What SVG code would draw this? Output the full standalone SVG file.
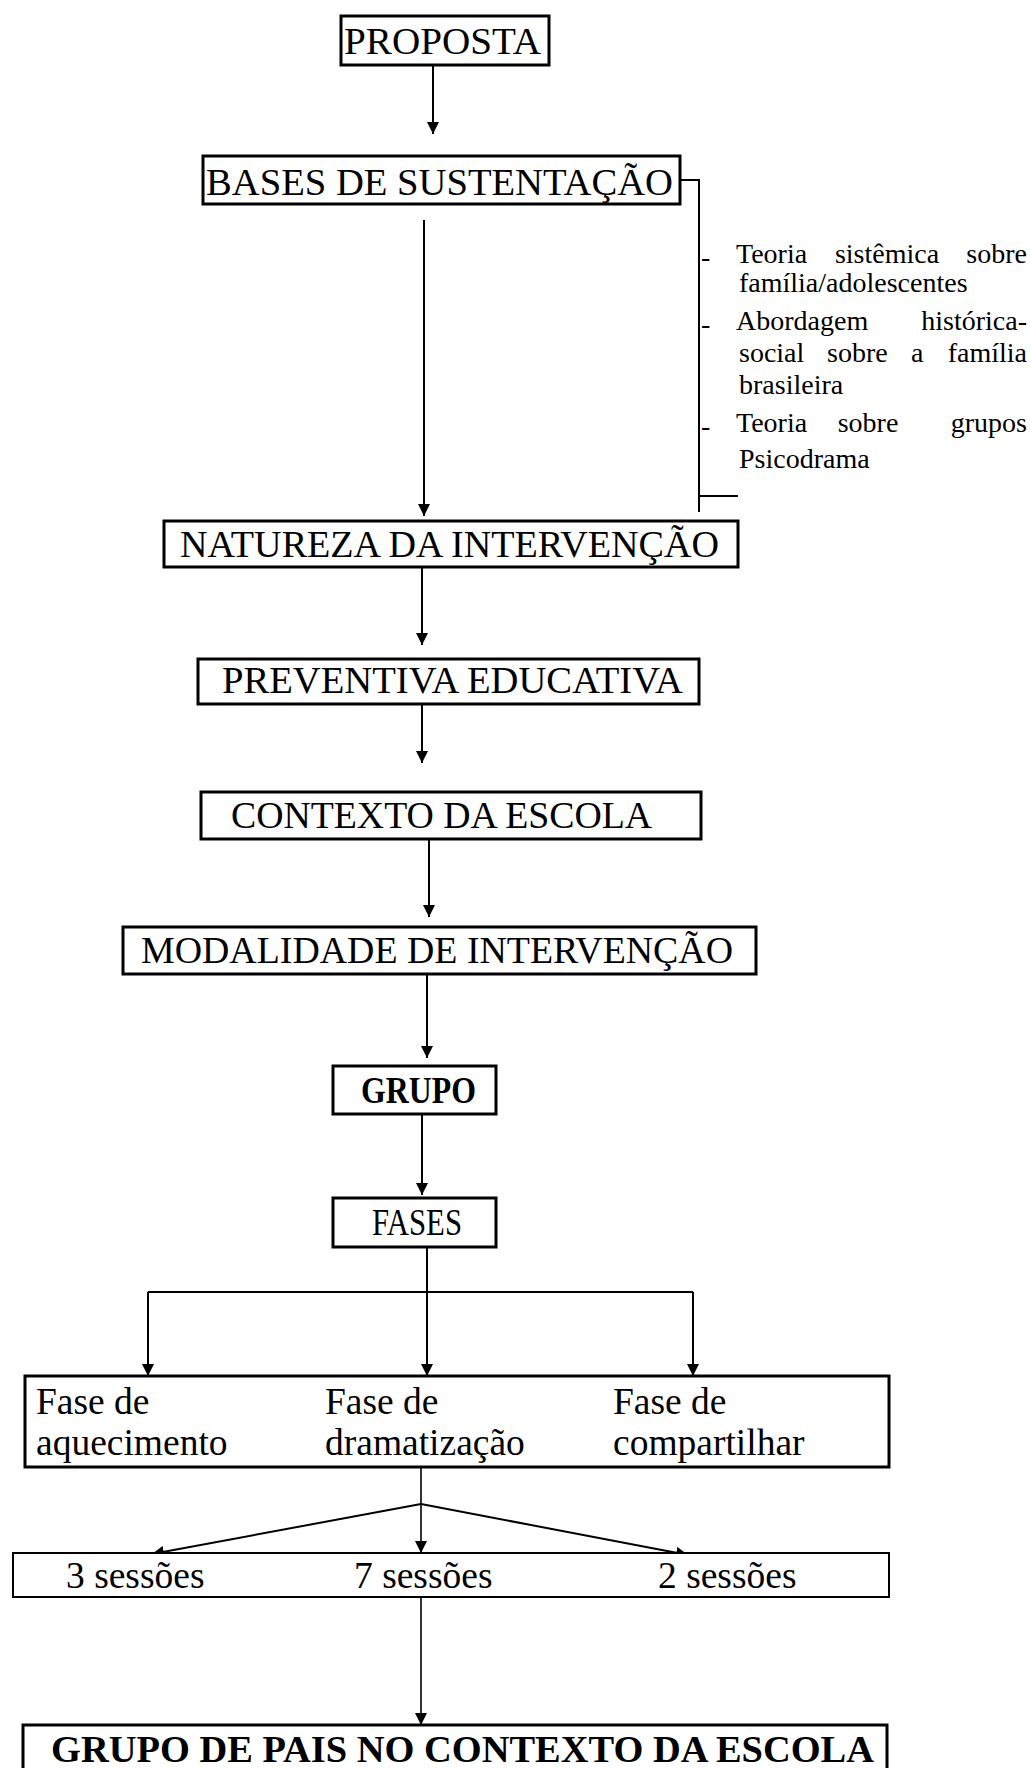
<svg xmlns="http://www.w3.org/2000/svg" width="1030" height="1768" viewBox="0 0 1030 1768">
<defs>
<style>
.box{fill:#fff;stroke:#000;stroke-width:3}
.thin{fill:#fff;stroke:#000;stroke-width:2}
.t{font-family:"Liberation Serif","Times New Roman",serif;font-size:38px;fill:#000}
.p{font-family:"Liberation Serif","Times New Roman",serif;font-size:37.5px;fill:#000}
.b{font-family:"Liberation Serif","Times New Roman",serif;font-size:38px;font-weight:bold;fill:#000}
.s{font-family:"Liberation Serif","Times New Roman",serif;font-size:28px;fill:#000}
.c{stroke:#000;stroke-width:2;fill:none}
.c2{stroke:#000;stroke-width:1.6;fill:none}
</style>
<marker id="ah" viewBox="0 0 12 12" refX="12" refY="6" markerWidth="12" markerHeight="12" markerUnits="userSpaceOnUse" orient="auto">
<path d="M0,0 L12,6 L0,12 z" fill="#000"/>
</marker>
</defs>
<rect width="1030" height="1768" fill="#fff"/>

<g id="connectors">
<line class="c" x1="433" y1="65" x2="433" y2="134" marker-end="url(#ah)"/>
<line class="c" x1="424" y1="220" x2="424" y2="516" marker-end="url(#ah)"/>
<line class="c" x1="422" y1="567" x2="422" y2="645" marker-end="url(#ah)"/>
<line class="c" x1="422" y1="704" x2="422" y2="763" marker-end="url(#ah)"/>
<line class="c" x1="429" y1="839" x2="429" y2="917" marker-end="url(#ah)"/>
<line class="c" x1="427" y1="974" x2="427" y2="1058" marker-end="url(#ah)"/>
<line class="c" x1="422" y1="1114" x2="422" y2="1195" marker-end="url(#ah)"/>
<line class="c" x1="427" y1="1247" x2="427" y2="1376" marker-end="url(#ah)"/>
<line class="c" x1="148" y1="1292" x2="693" y2="1292"/>
<line class="c" x1="148" y1="1292" x2="148" y2="1376" marker-end="url(#ah)"/>
<line class="c" x1="693" y1="1292" x2="693" y2="1376" marker-end="url(#ah)"/>
<line class="c2" x1="421" y1="1467" x2="421" y2="1553" marker-end="url(#ah)"/>
<line class="c" x1="421" y1="1504" x2="152" y2="1554" marker-end="url(#ah)"/>
<line class="c" x1="421" y1="1504" x2="688" y2="1555" marker-end="url(#ah)"/>
<line class="c2" x1="421" y1="1597" x2="421" y2="1725" marker-end="url(#ah)"/>
<polyline class="c" points="680,180 699,180 699,512"/>
<line class="c" x1="699" y1="496" x2="738" y2="496"/>
</g>

<g id="proposta">
<rect class="box" x="341" y="16" width="208" height="49"/>
<text class="t" x="344" y="54" textLength="197" lengthAdjust="spacingAndGlyphs">PROPOSTA</text>
</g>

<g id="bases">
<rect class="box" x="203" y="156" width="477" height="48"/>
<text class="t" x="206" y="195" textLength="467" lengthAdjust="spacingAndGlyphs">BASES DE SUSTENTAÇÃO</text>
</g>

<g id="bases-notes">
<text class="s" x="701" y="266">-</text>
<text class="s" x="736" y="263">Teoria</text>
<text class="s" x="887" y="263" text-anchor="middle">sistêmica</text>
<text class="s" x="1027" y="263" text-anchor="end">sobre</text>
<text class="s" x="739" y="292">família/adolescentes</text>
<text class="s" x="701" y="333">-</text>
<text class="s" x="736" y="330">Abordagem</text>
<text class="s" x="1027" y="330" text-anchor="end">histórica-</text>
<text class="s" x="739" y="362">social</text>
<text class="s" x="827" y="362">sobre</text>
<text class="s" x="911" y="362">a</text>
<text class="s" x="1027" y="362" text-anchor="end">família</text>
<text class="s" x="739" y="394">brasileira</text>
<text class="s" x="701" y="435">-</text>
<text class="s" x="736" y="432">Teoria</text>
<text class="s" x="868" y="432" text-anchor="middle">sobre</text>
<text class="s" x="1027" y="432" text-anchor="end">grupos</text>
<text class="s" x="739" y="468">Psicodrama</text>
</g>

<g id="natureza">
<rect class="box" x="164" y="521" width="574" height="46"/>
<text class="t" x="180" y="557" textLength="539" lengthAdjust="spacingAndGlyphs">NATUREZA DA INTERVENÇÃO</text>
</g>

<g id="preventiva">
<rect class="box" x="198" y="659" width="501" height="45"/>
<text class="t" x="222" y="693" textLength="461" lengthAdjust="spacingAndGlyphs">PREVENTIVA EDUCATIVA</text>
</g>

<g id="contexto">
<rect class="box" x="201" y="792" width="500" height="47"/>
<text class="t" x="231" y="828" textLength="421" lengthAdjust="spacingAndGlyphs">CONTEXTO DA ESCOLA</text>
</g>

<g id="modalidade">
<rect class="box" x="123" y="927" width="633" height="47"/>
<text class="t" x="141" y="963" textLength="592" lengthAdjust="spacingAndGlyphs">MODALIDADE DE INTERVENÇÃO</text>
</g>

<g id="grupo">
<rect class="box" x="333" y="1066" width="163" height="48"/>
<text class="b" x="361" y="1103" textLength="115" lengthAdjust="spacingAndGlyphs">GRUPO</text>
</g>

<g id="fases">
<rect class="box" x="333" y="1198" width="163" height="49"/>
<text class="t" x="372" y="1235" textLength="90" lengthAdjust="spacingAndGlyphs">FASES</text>
</g>

<g id="fases-detalhe">
<rect class="box" x="25" y="1376" width="864" height="91"/>
<text class="p" x="36" y="1414">Fase de</text>
<text class="p" x="36" y="1455">aquecimento</text>
<text class="p" x="325" y="1414">Fase de</text>
<text class="p" x="325" y="1455">dramatização</text>
<text class="p" x="613" y="1414">Fase de</text>
<text class="p" x="613" y="1455">compartilhar</text>
</g>

<g id="sessoes">
<rect class="thin" x="13" y="1553" width="876" height="44"/>
<text class="p" x="66" y="1588">3 sessões</text>
<text class="p" x="354" y="1588">7 sessões</text>
<text class="p" x="658" y="1588">2 sessões</text>
</g>

<g id="grupo-pais">
<rect class="box" x="23" y="1725" width="864" height="60"/>
<text class="b" x="51" y="1762" textLength="823" lengthAdjust="spacingAndGlyphs">GRUPO DE PAIS NO CONTEXTO DA ESCOLA</text>
</g>
</svg>
